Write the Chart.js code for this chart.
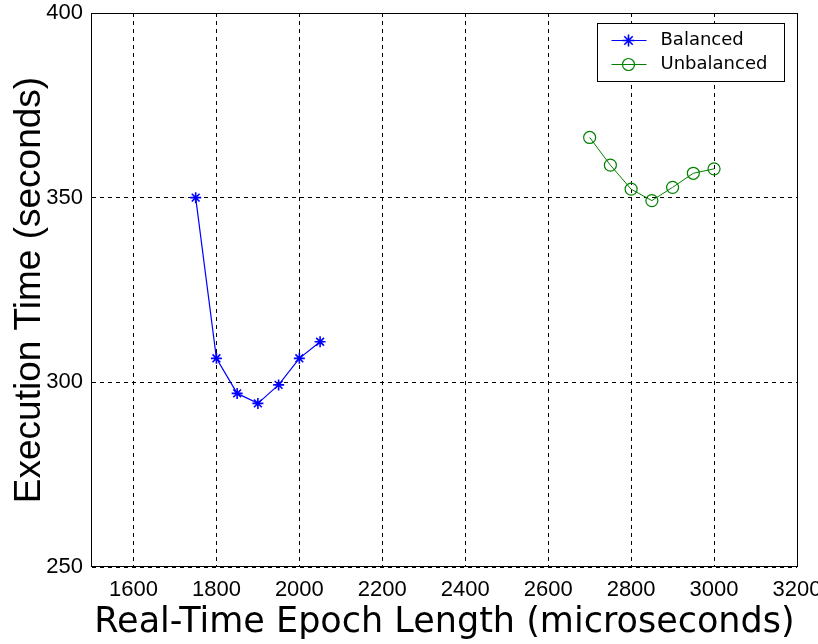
<!DOCTYPE html>
<html>
<head>
<meta charset="utf-8">
<title>Execution time vs epoch length</title>
<script src="https://cdn.jsdelivr.net/npm/chart.js@4.4.1/dist/chart.umd.min.js"></script>
<style>
  html, body { margin: 0; padding: 0; background: #fff; }
</style>
</head>
<body>
<canvas id="chart" width="818" height="644"></canvas>
<script>
// values
const epochBalanced = [1750, 1800, 1850, 1900, 1950, 2000, 2050]
const timeBalanced = [350, 306.5, 297, 294.3, 299.3, 306.5, 311]
const epochUnbalanced = [2700, 2750, 2800, 2850, 2900, 2950, 3000]
const timeUnbalanced = [366.3, 358.8, 352.3, 349.2, 352.8, 356.6, 357.8]
const seriesNames = ['Balanced', 'Unbalanced']
const xTicks = [1600, 1800, 2000, 2200, 2400, 2600, 2800, 3000, 3200]
const yTicks = [250, 300, 350, 400]

const toPoints = (xs, ys) => xs.map((x, i) => ({ x: x, y: ys[i] }))

// marker helper, used for the legend only
function marker(ctx, style, x, y, r) {
    ctx.beginPath()
    if (style === 'circle') {
        ctx.arc(x, y, r, 0, Math.PI * 2)
    } else {
        const d = r * Math.SQRT1_2
        ctx.moveTo(x - r, y); ctx.lineTo(x + r, y)
        ctx.moveTo(x, y - r); ctx.lineTo(x, y + r)
        ctx.moveTo(x - d, y - d); ctx.lineTo(x + d, y + d)
        ctx.moveTo(x - d, y + d); ctx.lineTo(x + d, y - d)
    }
    ctx.stroke()
}

// solid box round the plot
const framePlugin = {
    id: 'frame',
    beforeDatasetsDraw(chart) {
        const { ctx, chartArea: a } = chart
        ctx.save()
        ctx.strokeStyle = '#000'
        ctx.lineWidth = 1
        ctx.strokeRect(Math.round(a.left) - 0.5, Math.round(a.top) + 0.5,
            Math.round(a.right - a.left) + 1, Math.round(a.bottom - a.top) - 1)
        ctx.restore()
    }
}

// matlab style legend box in the top right corner
const legendBox = {
    id: 'legendBox',
    afterDraw(chart) {
        const { ctx, chartArea: a } = chart
        const w = 187, h = 58
        const left = Math.round(a.right - 13 - w) + 0.5
        const top = Math.round(a.top + 10) + 0.5
        ctx.save()
        ctx.fillStyle = '#fff'
        ctx.fillRect(left, top, w, h)
        ctx.strokeStyle = '#000'
        ctx.lineWidth = 1
        ctx.strokeRect(left, top, w, h)
        ctx.font = '18px "DejaVu Sans"'
        ctx.textBaseline = 'middle'
        chart.data.datasets.forEach((ds, i) => {
            const y = Math.round(top + 16 + i * 24) + 0.5
            ctx.strokeStyle = ds.borderColor
            ctx.lineWidth = 1
            ctx.beginPath()
            ctx.moveTo(left + 14, y)
            ctx.lineTo(left + 49, y)
            ctx.stroke()
            ctx.lineWidth = ds.pointBorderWidth
            marker(ctx, ds.pointStyle, left + 31, y, 6)
            ctx.fillStyle = '#000'
            ctx.fillText(ds.label, left + 63, y)
        })
        ctx.restore()
    }
}

Chart.defaults.color = '#000'

const tickFont = { family: '"Liberation Sans Narrow", "Arial Narrow", sans-serif', size: 22 }

const chart = new Chart(document.getElementById('chart'), {
    type: 'scatter',
    data: {
        datasets: [
            {
                label: seriesNames[0],
                data: toPoints(epochBalanced, timeBalanced),
                showLine: true,
                borderColor: 'rgb(0,0,255)',
                backgroundColor: 'rgb(0,0,255)',
                borderWidth: 1.2,
                pointStyle: 'star',
                pointRadius: 5.5,
                pointBorderWidth: 1.6
            },
            {
                label: seriesNames[1],
                data: toPoints(epochUnbalanced, timeUnbalanced),
                showLine: true,
                borderColor: 'rgb(0,128,0)',
                backgroundColor: 'rgba(0,0,0,0)',
                borderWidth: 1,
                pointStyle: 'circle',
                pointRadius: 6,
                pointBorderWidth: 1.2
            }
        ]
    },
    options: {
        responsive: false,
        animation: false,
        devicePixelRatio: 1,
        layout: { padding: { left: 0, top: 13, right: 21, bottom: 0 } },
        plugins: {
            legend: { display: false },
            tooltip: { enabled: false }
        },
        scales: {
            x: {
                type: 'linear',
                min: 1500,
                max: 3200,
                afterBuildTicks: s => { s.ticks = xTicks.map(v => ({ value: v })) },
                afterFit: s => { s.height = 77; s.paddingLeft = 0; s.paddingRight = 0 },
                ticks: {
                    padding: 10,
                    maxRotation: 0,
                    font: tickFont,
                    callback: v => String(v)
                },
                grid: { color: '#000', lineWidth: 1, drawTicks: false },
                border: { display: false, dash: [4, 4] },
                title: {
                    display: true,
                    text: 'Real-Time Epoch Length (microseconds)',
                    font: { family: '"DejaVu Sans"', size: 35, lineHeight: 1.2 },
                    padding: { top: 0, bottom: 0 }
                }
            },
            y: {
                type: 'linear',
                min: 250,
                max: 400,
                afterBuildTicks: s => { s.ticks = yTicks.map(v => ({ value: v })) },
                afterFit: s => { s.width = 92; s.paddingTop = 0; s.paddingBottom = 0 },
                ticks: {
                    padding: 9,
                    font: tickFont,
                    callback: v => String(v)
                },
                grid: { color: '#000', lineWidth: 1, drawTicks: false },
                border: { display: false, dash: [4, 4] },
                title: {
                    display: true,
                    text: 'Execution Time (seconds)',
                    font: { family: '"Liberation Sans", Arial, sans-serif', size: 37, lineHeight: 1.2 },
                    padding: { top: 8, bottom: 0 }
                }
            }
        }
    },
    plugins: [framePlugin, legendBox]
})
</script>
</body>
</html>
